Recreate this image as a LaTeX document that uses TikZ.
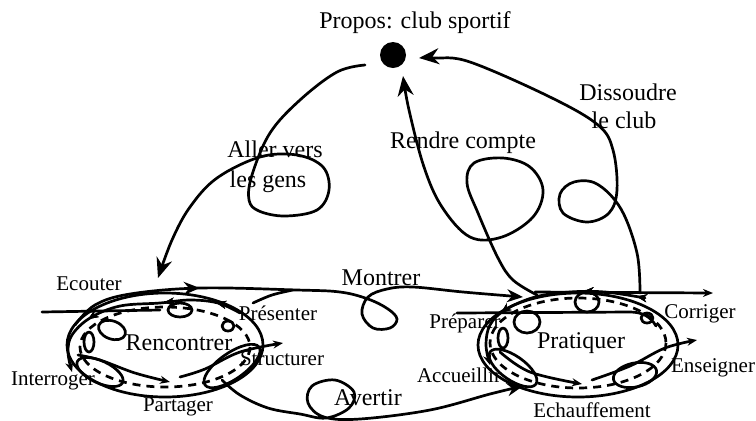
\documentclass[tikz,border=0pt]{standalone}
\usepackage{fontspec}
\setmainfont{Liberation Serif}
\usetikzlibrary{arrows.meta,decorations.markings}
\begin{document}
\begin{tikzpicture}[x=0.5pt,y=-0.5pt,
  ln/.style={line width=1.35pt, line cap=round, line join=round},
  dsh/.style={line width=1.35pt, dash pattern=on 4pt off 3pt},
  bigf/.style={font=\fontsize{12}{14}\selectfont, inner sep=0pt, anchor=base},
  smf/.style={font=\fontsize{10.5}{12}\selectfont, inner sep=0pt, anchor=base},
  bigtip/.style={-{Stealth[length=10pt,width=8pt]}},
  medtip/.style={-{Stealth[length=8pt,width=6.5pt]}},
  smtip/.style={-{Stealth[length=5pt,width=4pt]}},
  marr/.style={postaction={decorate}, decoration={markings, mark=at position #1 with {\arrow{Stealth[length=5pt,width=4pt]}}}},
  marrb/.style={postaction={decorate}, decoration={markings, mark=at position #1 with {\arrow{Stealth[length=8pt,width=6.5pt]}}}},
]
\useasboundingbox (0,0) rectangle (756,420);

% top
\node[smf, font=\fontsize{12}{14}\selectfont] (propos) at (415,28) {Propos: club sportif};
\node[circle, fill, inner sep=0pt, minimum size=13pt] (dot) at (393,55) {};

% labels
\node[bigf] (aller1) at (275,157) {Aller vers};
\node[bigf] (aller2) at (268,187) {les gens};
\node[bigf] (rendre) at (463,148) {Rendre compte};
\node[bigf] (diss1) at (628,100) {Dissoudre};
\node[bigf] (diss2) at (624,128) {le club};
\node[bigf] (montrer) at (381,285) {Montrer};
\node[bigf] (avertir) at (368,405) {Avertir};
\node[bigf] (renc) at (179,350) {Rencontrer};
\node[bigf] (prat) at (581,348) {Pratiquer};
\node[smf] (ecouter) at (89,290) {Ecouter};
\node[smf] (presenter) at (278,320) {Présenter};
\node[smf] (structurer) at (282,365) {Structurer};
\node[smf] (interroger) at (53,385) {Interroger};
\node[smf] (partager) at (178,411) {Partager};
\node[smf] (corriger) at (700,318) {Corriger};
\node[smf] (preparer) at (465,328) {Préparer};
\node[smf] (enseigner) at (713,372) {Enseigner};
\node[smf] (accueillir) at (459,382) {Accueillir};
\node[smf] (echauff) at (592,417) {Echauffement};

% free ends
\coordinate (allerS) at (365,65);
\coordinate (allerE) at (158,278);
\coordinate (rendS) at (537,295);
\coordinate (rendE) at (403,76);
\coordinate (dissS) at (640,293);
\coordinate (dissE) at (419,58);
\coordinate (montS) at (75,325);
\coordinate (montE) at (523,297);
\coordinate (avS) at (222,380);
\coordinate (avE) at (523,386);

% Aller vers les gens
\draw[ln, bigtip] plot[smooth, tension=0.6] coordinates {(allerS) (337,72) (300,100) (270,133) (252,175) (249,200) (259,211) (285,216) (317,210) (329,190) (323,167) (297,155) (260,157) (217,178) (190,207) (172,240) (allerE)};

% Rendre compte
\draw[ln, bigtip] plot[smooth, tension=0.6] coordinates {(rendS) (513,280) (498,258) (478,213) (467,183) (474,163) (503,158) (530,167) (543,190) (533,217) (502,237) (470,237) (442,207) (424,167) (409,110) (rendE)};

% Dissoudre le club
\draw[ln, bigtip] plot[smooth, tension=0.6] coordinates {(dissS) (637,253) (621,209) (597,184) (574,182) (560,194) (563,213) (587,222) (609,213) (617,190) (613,150) (598,125) (550,97) (470,62) (435,58) (dissE)};

% Montrer
\draw[ln, medtip, marrb=0.24] plot[smooth, tension=0.6] coordinates {(montS) (95,305) (130,294) (200,288) (297,290) (340,292) (368,299) (388,309) (397,319) (390,328) (373,328) (362,314) (368,297) (387,289) (413,287) (463,292) (montE)};

% Avertir
\draw[ln, medtip] plot[smooth, tension=0.6] coordinates {(avS) (240,395) (268,408) (300,414) (326,418) (349,408) (354,392) (335,380) (312,386) (308,403) (324,417) (360,419) (430,410) (490,394) (avE)};

% ---------- Rencontrer cluster ----------
\draw[ln] (165,345) ellipse [x radius=98, y radius=52];
\draw[dsh] (165,347) ellipse [x radius=85, y radius=40];
\draw[ln] (42,312) -- (160,310);
\draw[ln, marr=0.12, marr=0.36, marr=0.72, smtip] plot[smooth, tension=0.6] coordinates {(240,313) (218,303) (190,300) (160,303) (120,306) (90,318) (72,335) (68,352) (72,372)};
\draw[ln, smtip] plot[smooth, tension=0.6] coordinates {(78,355) (100,360) (135,373) (170,382)};
\draw[ln, smtip] plot[smooth, tension=0.6] coordinates {(180,377) (205,369) (240,352) (283,343)};
\draw[ln] plot[smooth, tension=0.6] coordinates {(253,303) (272,295) (293,290)};
\draw[ln] (180,310) ellipse [x radius=12, y radius=7];
\draw[ln] (228,326) ellipse [x radius=6, y radius=5];
\draw[ln, rotate around={-20:(112,330)}] (112,330) ellipse [x radius=14, y radius=9];
\draw[ln] (89,342) ellipse [x radius=5, y radius=10];
\draw[ln, rotate around={-25:(100,372)}] (100,372) ellipse [x radius=25, y radius=11];
\draw[ln, rotate around={35:(232,366)}] (232,366) ellipse [x radius=33, y radius=13];

% ---------- Pratiquer cluster ----------
\draw[ln] (578,345) ellipse [x radius=100, y radius=52];
\draw[dsh] (578,343) ellipse [x radius=88, y radius=45];
\draw[ln, smtip] (535,292) -- (713,293);
\draw[ln] (457,313) -- (630,312) to[out=0,in=120] (656,326);
\draw[ln, marr=0.04, marr=0.3, marr=0.72, smtip] plot[smooth, tension=0.6] coordinates {(645,298) (605,292) (570,292) (535,297) (505,310) (490,325) (486,345) (490,365)};
\draw[ln, smtip] plot[smooth, tension=0.6] coordinates {(500,352) (530,372) (582,384)};
\draw[ln, smtip] plot[smooth, tension=0.6] coordinates {(592,380) (630,366) (665,348) (697,340)};
\draw[ln] (587,302) ellipse [x radius=12, y radius=10];
\draw[ln] (647,318) ellipse [x radius=6, y radius=5];
\draw[ln] (527,322) ellipse [x radius=13, y radius=11];
\draw[ln] (503,338) ellipse [x radius=5, y radius=10];
\draw[ln, rotate around={-35:(513,368)}] (513,368) ellipse [x radius=28, y radius=12];
\draw[ln, rotate around={12:(635,375)}] (635,375) ellipse [x radius=22, y radius=12];
\end{tikzpicture}
\end{document}
